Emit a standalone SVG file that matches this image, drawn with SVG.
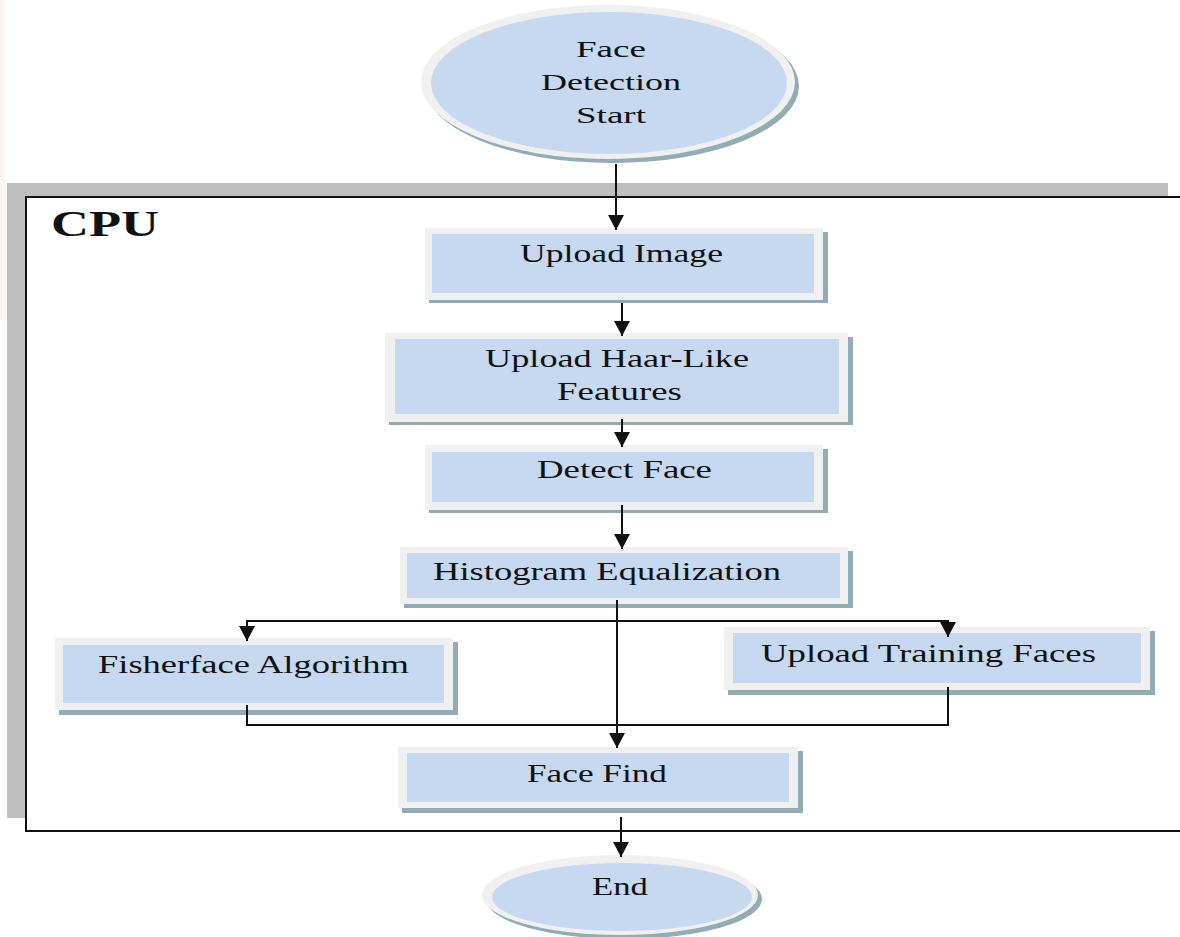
<svg xmlns="http://www.w3.org/2000/svg" width="1180" height="937" viewBox="0 0 1180 937">
<defs>
<style>
.ring{fill:#f0f0f0}
.fill{fill:#c6d9f0}
.shadow{fill:#93abb2}
.t{font-family:"Liberation Serif","Times New Roman",serif;font-size:26px;fill:#111;text-anchor:start}
.ts{font-family:"Liberation Serif","Times New Roman",serif;font-size:24px;fill:#111}
.cpu{font-family:"Liberation Serif","Times New Roman",serif;font-size:36px;font-weight:bold;fill:#111}
.ln{fill:none;stroke:#111;stroke-width:2}
</style>
<marker id="ah" markerUnits="userSpaceOnUse" markerWidth="18" markerHeight="18" viewBox="0 -9 15 18" refX="15" refY="0" orient="auto">
<path d="M0,-8 L15,0 L0,8 z" fill="#111"/>
</marker>
<linearGradient id="beige" x1="0" y1="0" x2="1" y2="0">
<stop offset="0" stop-color="#efe4d0"/>
<stop offset="1" stop-color="#fdfaf5"/>
</linearGradient>
</defs>
<rect x="0" y="0" width="1180" height="937" fill="#ffffff"/>
<rect x="0" y="0" width="7" height="320" fill="url(#beige)" opacity="0.5"/>

<g id="cpu-frame">
<rect x="7" y="183" width="1161" height="635" fill="#bfbfbf"/>
<rect x="26" y="197" width="1170" height="634" fill="#ffffff" stroke="#111" stroke-width="2"/>
<text class="cpu" x="51" y="236" textLength="108" lengthAdjust="spacingAndGlyphs">CPU</text>
</g>

<g id="start">
<ellipse class="shadow" cx="612" cy="86" rx="187" ry="77"/>
<ellipse class="ring" cx="608" cy="82" rx="187" ry="77"/>
<ellipse class="fill" cx="609" cy="83" rx="178" ry="71"/>
<text class="ts" x="576" y="57" textLength="70" lengthAdjust="spacingAndGlyphs">Face</text>
<text class="ts" x="541" y="90" textLength="140" lengthAdjust="spacingAndGlyphs">Detection</text>
<text class="ts" x="576" y="123" textLength="70" lengthAdjust="spacingAndGlyphs">Start</text>
</g>

<g id="upload-image">
<rect class="shadow" x="429" y="232" width="399" height="71"/>
<rect class="ring" x="425" y="228" width="398" height="72"/>
<rect class="fill" x="432" y="234" width="382" height="59"/>
<text class="t" x="520" y="262" textLength="203" lengthAdjust="spacingAndGlyphs">Upload Image</text>
</g>

<g id="upload-haar">
<rect class="shadow" x="389" y="337" width="464" height="88"/>
<rect class="ring" x="385" y="333" width="463" height="89"/>
<rect class="fill" x="395" y="339" width="444" height="75"/>
<text class="t" x="485" y="367" textLength="264" lengthAdjust="spacingAndGlyphs">Upload Haar-Like</text>
<text class="t" x="557" y="400" textLength="125" lengthAdjust="spacingAndGlyphs">Features</text>
</g>

<g id="detect-face">
<rect class="shadow" x="429" y="449" width="399" height="64"/>
<rect class="ring" x="425" y="445" width="398" height="65"/>
<rect class="fill" x="432" y="452" width="382" height="50"/>
<text class="t" x="537" y="478" textLength="175" lengthAdjust="spacingAndGlyphs">Detect Face</text>
</g>

<g id="histogram">
<rect class="shadow" x="404" y="551" width="449" height="57"/>
<rect class="ring" x="400" y="547" width="448" height="57"/>
<rect class="fill" x="407" y="553" width="433" height="45"/>
<text class="t" x="433" y="580" textLength="348" lengthAdjust="spacingAndGlyphs">Histogram Equalization</text>
</g>

<g id="fisherface">
<rect class="shadow" x="59" y="642" width="399" height="73"/>
<rect class="ring" x="55" y="638" width="398" height="72"/>
<rect class="fill" x="63" y="645" width="381" height="58"/>
<text class="t" x="98" y="673" textLength="311" lengthAdjust="spacingAndGlyphs">Fisherface Algorithm</text>
</g>

<g id="training-faces">
<rect class="shadow" x="728" y="631" width="427" height="64"/>
<rect class="ring" x="724" y="627" width="426" height="63"/>
<rect class="fill" x="733" y="633" width="408" height="50"/>
<text class="t" x="761" y="662" textLength="335" lengthAdjust="spacingAndGlyphs">Upload Training Faces</text>
</g>

<g id="face-find">
<rect class="shadow" x="402" y="751" width="401" height="62"/>
<rect class="ring" x="398" y="747" width="400" height="61"/>
<rect class="fill" x="407" y="753" width="382" height="49"/>
<text class="t" x="527" y="782" textLength="140" lengthAdjust="spacingAndGlyphs">Face Find</text>
</g>

<g id="end">
<ellipse class="shadow" cx="624" cy="899" rx="138" ry="40"/>
<ellipse class="ring" cx="620" cy="895" rx="138" ry="40"/>
<ellipse class="fill" cx="622" cy="897" rx="130" ry="34"/>
<text class="t" x="592" y="895" textLength="56" lengthAdjust="spacingAndGlyphs">End</text>
</g>

<g id="connectors">
<path class="ln" d="M616,164 V230" marker-end="url(#ah)"/>
<path class="ln" d="M622,303 V336" marker-end="url(#ah)"/>
<path class="ln" d="M622,419 V447" marker-end="url(#ah)"/>
<path class="ln" d="M622,505 V549" marker-end="url(#ah)"/>
<path class="ln" d="M617,600 V748" marker-end="url(#ah)"/>
<path class="ln" d="M247,621 H948"/>
<path class="ln" d="M247,620 V641" marker-end="url(#ah)"/>
<path class="ln" d="M948,620 V637" marker-end="url(#ah)"/>
<path class="ln" d="M247,705 V725 H948 V687"/>
<path class="ln" d="M621,817 V857" marker-end="url(#ah)"/>
</g>
</svg>
